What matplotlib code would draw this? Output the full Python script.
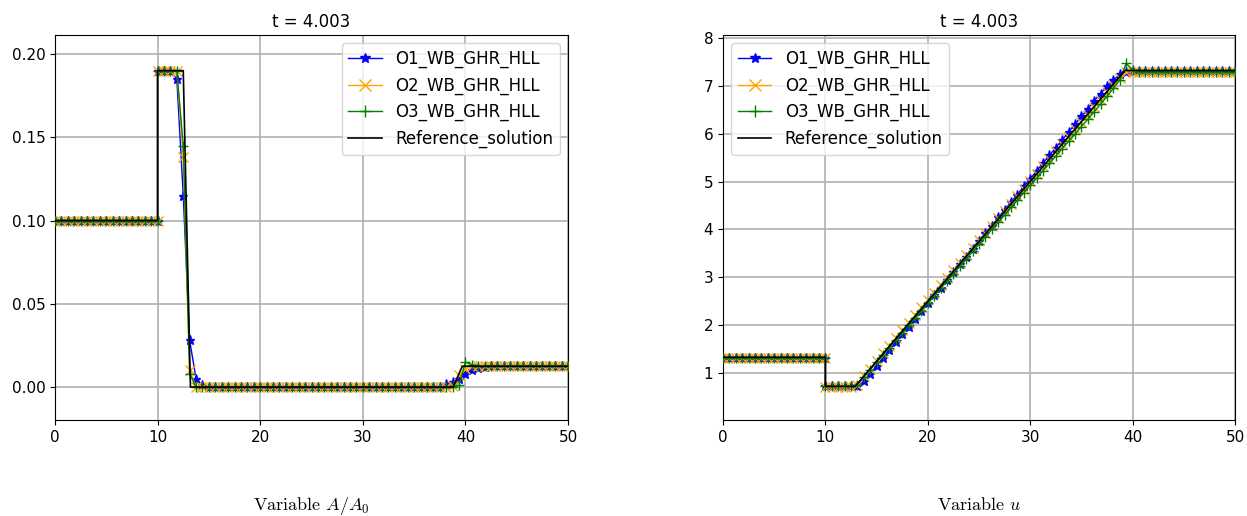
import numpy as np
import matplotlib
matplotlib.use("Agg")
import matplotlib.pyplot as plt

plt.rcParams['mathtext.fontset'] = 'cm'

# grid: nodes 0..10 (left of interface) and 10..50 (right of interface)
x_left = np.linspace(0, 10, 17)
x_right = np.linspace(10, 50, 65)
x = np.concatenate([x_left, x_right])

labels = ["O1_WB_GHR_HLL", "O2_WB_GHR_HLL", "O3_WB_GHR_HLL", "Reference_solution"]
title_text = "t = 4.003"

# ---- A/A0 ----
A_left = [0.1] * 17
A_o1_right = [0.19, 0.19, 0.19, 0.185, 0.115, 0.028, 0.005, 0.001] + [0.0] * 37 + \
             [0.002, 0.003, 0.005, 0.008, 0.010, 0.0115, 0.012] + [0.0125] * 13
A_o2_right = [0.19, 0.19, 0.19, 0.19, 0.138, 0.010, 0.0] + [0.0] * 39 + \
             [0.0005, 0.007, 0.011, 0.0125] + [0.0125] * 15
A_o3_right = [0.19, 0.19, 0.19, 0.19, 0.145, 0.008, 0.0] + [0.0] * 40 + \
             [0.001, 0.015, 0.0135, 0.0127] + [0.0125] * 14
A_o1 = A_left + A_o1_right
A_o2 = A_left + A_o2_right
A_o3 = A_left + A_o3_right
x_ref_A = [0, 10, 10, 12.5, 13.2, 38.8, 39.7, 50]
A_ref = [0.1, 0.1, 0.19, 0.19, 0.0, 0.0, 0.0125, 0.0125]

# ---- u ----
u_left = [1.32] * 17
u_o1_right = [0.72, 0.72, 0.72, 0.72, 0.72,
              0.73, 0.83, 0.99, 1.15, 1.32, 1.48, 1.64, 1.81, 1.97, 2.13, 2.29, 2.46,
              2.62, 2.78, 2.94, 3.11, 3.27, 3.43, 3.60, 3.76, 3.92, 4.08, 4.25, 4.41,
              4.57, 4.73, 4.90, 5.06, 5.22, 5.39, 5.55, 5.71, 5.87, 6.04, 6.20, 6.36,
              6.52, 6.69, 6.84, 6.99, 7.12, 7.24, 7.29] + [7.31] * 17
u_o2_right = [0.70, 0.70, 0.70, 0.70, 0.70,
              0.76, 0.93, 1.09, 1.25, 1.41, 1.57, 1.73, 1.89, 2.05, 2.21, 2.37, 2.52,
              2.68, 2.84, 2.99, 3.15, 3.30, 3.46, 3.61, 3.77, 3.92, 4.08, 4.23, 4.39,
              4.54, 4.70, 4.85, 5.01, 5.16, 5.32, 5.47, 5.63, 5.78, 5.94, 6.09, 6.25,
              6.40, 6.56, 6.71, 6.87, 7.02, 7.17, 7.28] + [7.30] * 17
u_o3_right = [0.72, 0.72, 0.72, 0.72, 0.72,
              0.76, 0.92, 1.07, 1.23, 1.38, 1.53, 1.69, 1.84, 2.00, 2.15, 2.30, 2.46,
              2.61, 2.77, 2.92, 3.07, 3.23, 3.38, 3.54, 3.69, 3.84, 4.00, 4.15, 4.30,
              4.46, 4.61, 4.77, 4.92, 5.07, 5.23, 5.38, 5.53, 5.69, 5.84, 5.99, 6.15,
              6.30, 6.46, 6.62, 6.78, 6.95, 7.12, 7.47, 7.33] + [7.30] * 16
u_o1 = u_left + u_o1_right
u_o2 = u_left + u_o2_right
u_o3 = u_left + u_o3_right
x_ref_u = [0, 10, 10, 12.9, 39.25, 50]
u_ref = [1.33, 1.33, 0.72, 0.72, 7.32, 7.32]

fig = plt.figure(figsize=(12.47, 5.16), dpi=100)
ax1 = fig.add_axes([0.0441, 0.186, 0.4114, 0.7462])
ax2 = fig.add_axes([0.5798, 0.186, 0.4106, 0.7462])


def draw(ax, y1, y2, y3, xr, yr):
    ax.plot(x, y1, color='blue', marker='*', markersize=6.5, lw=1, label=labels[0], zorder=3)
    ax.plot(x, y2, color='orange', marker='x', markersize=7, lw=1, label=labels[1], zorder=4)
    ax.plot(x, y3, color='green', marker='+', markersize=7.5, lw=1, label=labels[2], zorder=5)
    ax.plot(xr, yr, color='black', lw=1.2, label=labels[3], zorder=6)
    ax.set_xlim(0, 50)
    ax.grid(True, color='#b0b0b0', lw=1.2)
    ax.set_axisbelow(True)
    ax.set_title(title_text, fontsize=12)
    ax.tick_params(labelsize=11)


draw(ax1, A_o1, A_o2, A_o3, x_ref_A, A_ref)
ax1.set_ylim(-0.0198, 0.2114)
ax1.set_yticks([0.0, 0.05, 0.10, 0.15, 0.20])
ax1.set_yticklabels(["0.00", "0.05", "0.10", "0.15", "0.20"])
ax1.legend(loc='upper right', fontsize=12, handlelength=2, markerscale=1.2)

draw(ax2, u_o1, u_o2, u_o3, x_ref_u, u_ref)
ax2.set_ylim(0.018, 8.063)
ax2.set_yticks([1, 2, 3, 4, 5, 6, 7, 8])
ax2.legend(loc='upper left', fontsize=12, handlelength=2, markerscale=1.2)

fig.text(0.2498, 0.012, r"Variable $A/A_0$", ha='center', va='baseline',
         fontsize=13, family='serif', fontname='cmr10')
fig.text(0.7851, 0.012, r"Variable $u$", ha='center', va='baseline',
         fontsize=13, family='serif', fontname='cmr10')

fig.savefig("out.png", dpi=100)
